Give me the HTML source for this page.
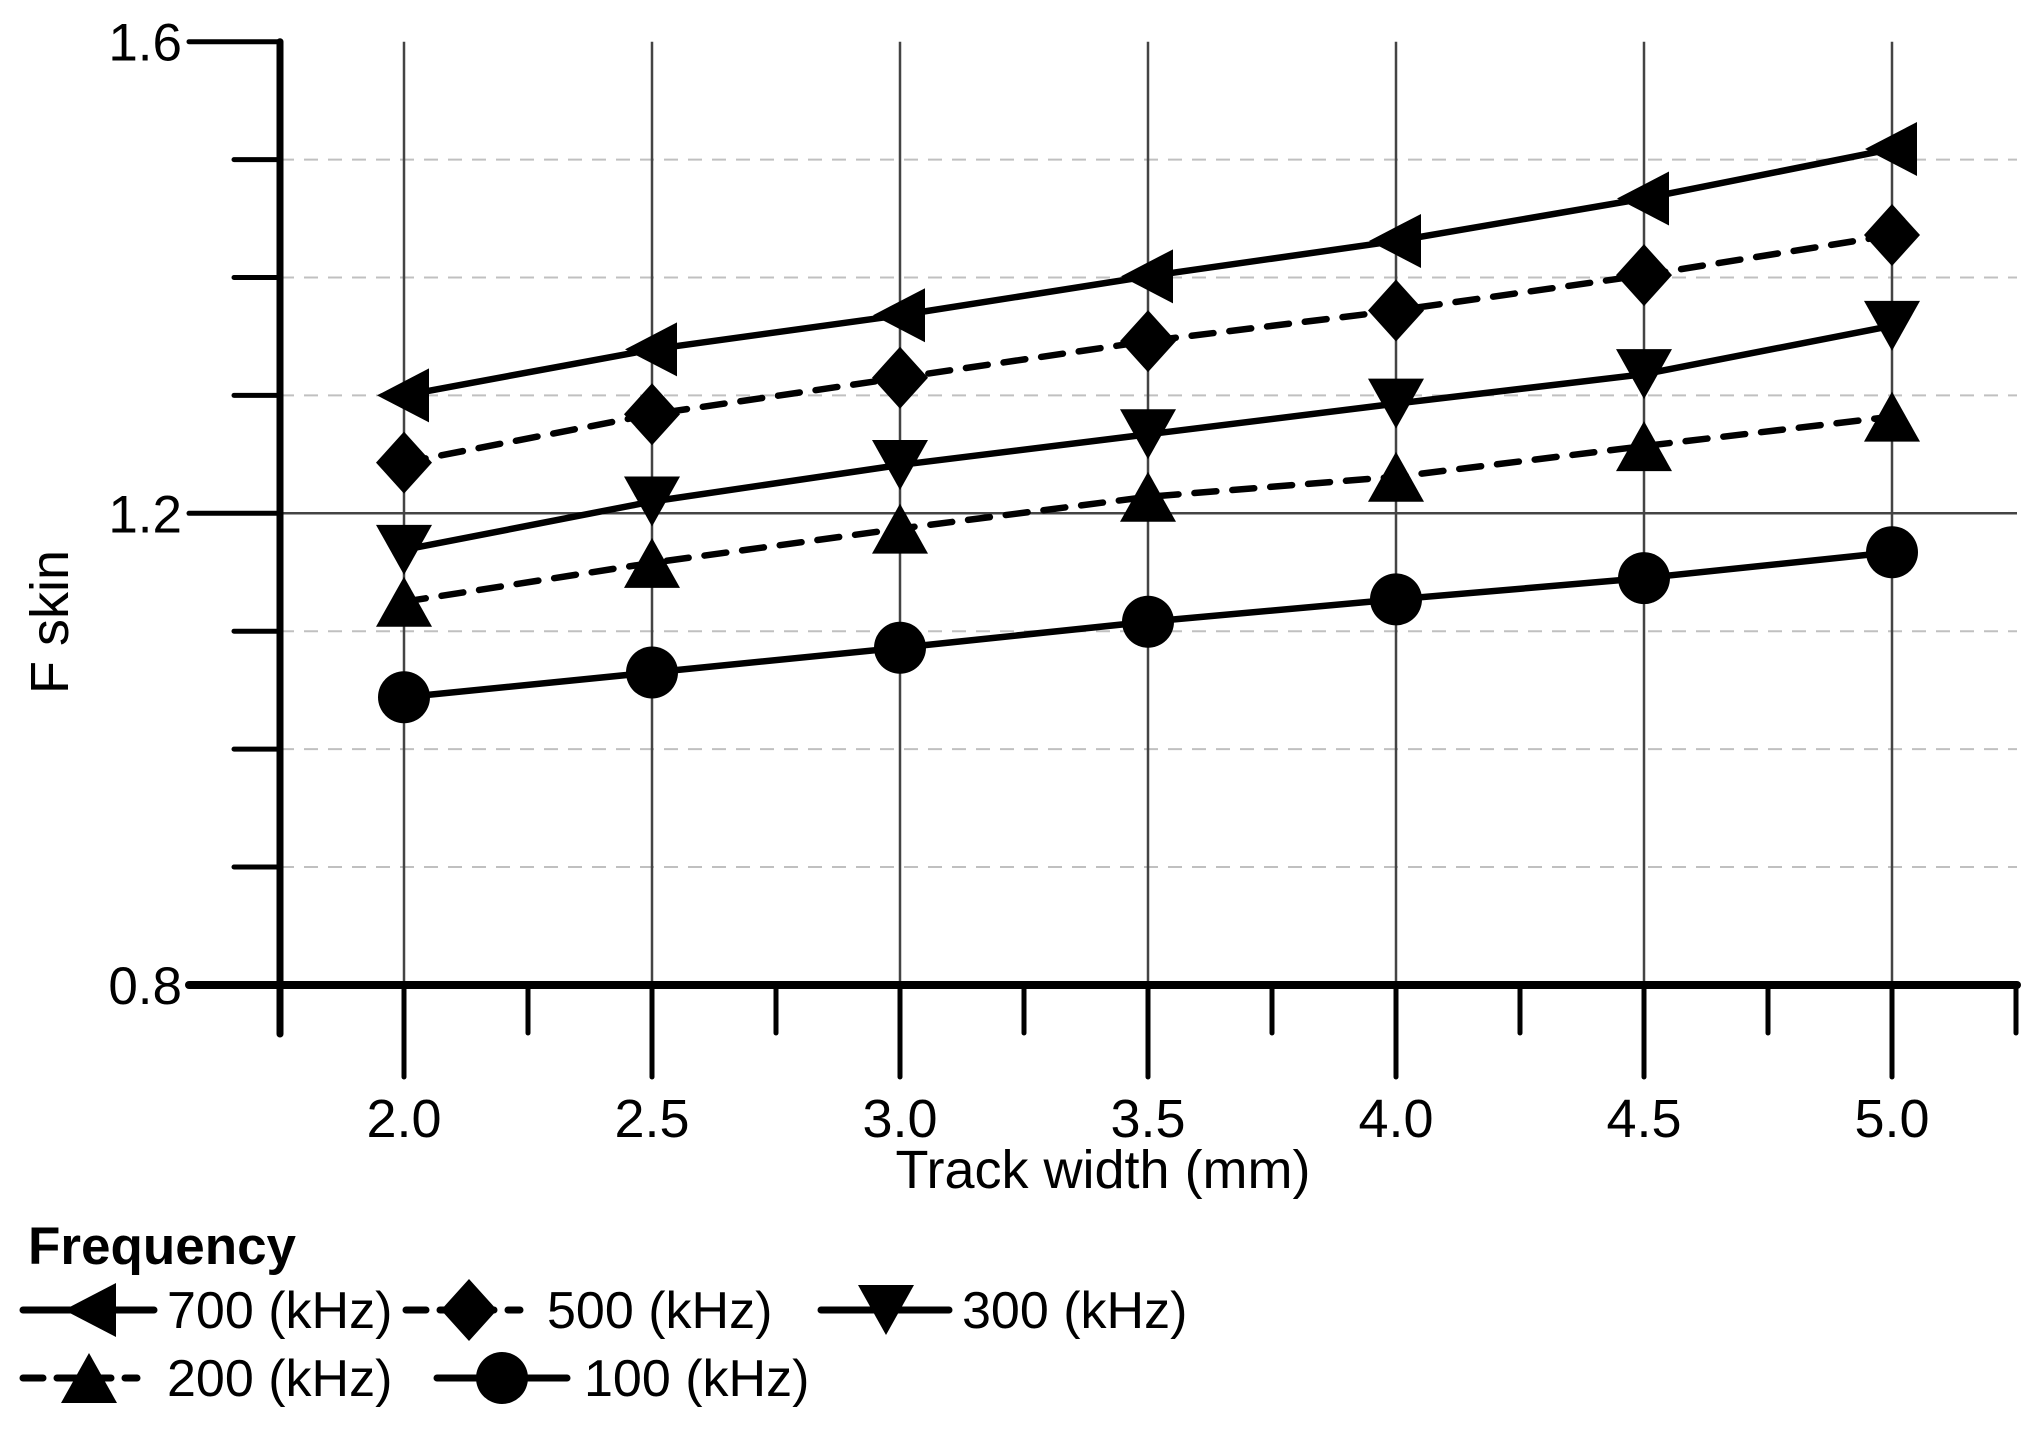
<!DOCTYPE html>
<html><head><meta charset="utf-8"><style>
html,body{margin:0;padding:0;background:#fff}
svg{display:block}
text{font-family:"Liberation Sans",Arial,sans-serif;fill:#000}
</style></head><body>
<svg id="s" width="2043" height="1446" viewBox="0 0 2043 1446" xmlns="http://www.w3.org/2000/svg">
<g id="grid"></g>
<g id="axes"></g>
<g id="series"></g>
<text x="1103" y="1188" font-size="54" text-anchor="middle">Track width (mm)</text>
<text transform="translate(68,622) rotate(-90)" font-size="54" text-anchor="middle">F skin</text>
<text x="28" y="1264" font-size="53" font-weight="bold">Frequency</text>
<g id="legend" font-size="52"></g>
</svg>
<script>
const NS="http://www.w3.org/2000/svg";
const X=v=>404+(v-2)*496, Y=v=>41.7+(1.6-v)*1179;
function el(p,t,a,txt){const e=document.createElementNS(NS,t);for(const k in a)e.setAttribute(k,a[k]);if(txt!==undefined)e.textContent=txt;document.getElementById(p).appendChild(e);return e;}
[1.5,1.4,1.3,1.1,1.0,0.9].forEach(v=>el('grid','line',{x1:280,x2:2017,y1:Y(v),y2:Y(v),stroke:'#c0c0c0','stroke-width':2,'stroke-dasharray':'14 10'}));
el('grid','line',{x1:280,x2:2017,y1:Y(1.2),y2:Y(1.2),stroke:'#444','stroke-width':2.5});
for(let v=2;v<=5.01;v+=0.5)el('grid','line',{x1:X(v),x2:X(v),y1:41.7,y2:985,stroke:'#444','stroke-width':2.5});
el('axes','line',{x1:280,x2:280,y1:41.7,y2:1034,stroke:'#000','stroke-width':7,'stroke-linecap':'round'});
el('axes','line',{x1:189,x2:2017,y1:985,y2:985,stroke:'#000','stroke-width':8,'stroke-linecap':'round'});
for(let v=0.8;v<=1.61;v+=0.1){const maj=Math.abs(v-0.8)<0.01||Math.abs(v-1.2)<0.01||Math.abs(v-1.6)<0.01;
 el('axes','line',{x1:maj?189:234,x2:280,y1:Y(v),y2:Y(v),stroke:'#000','stroke-width':5,'stroke-linecap':'round'});
 if(maj)el('axes','text',{x:182,y:Y(v)+19,'font-size':53,'text-anchor':'end'},v.toFixed(1));}
for(let v=1.75;v<=5.26;v+=0.25){const maj=Math.abs((v*2)-Math.round(v*2))<0.01;
 el('axes','line',{x1:X(v),x2:X(v),y1:985,y2:maj?1077:1033,stroke:'#000','stroke-width':5,'stroke-linecap':'round'});
 if(maj)el('axes','text',{x:X(v),y:1137,'font-size':54,'text-anchor':'middle'},v.toFixed(1));}
function marker(g,type,x,y){
 if(type=='L')el(g,'polygon',{points:`${x-27},${y} ${x+25},${y-27} ${x+25},${y+27}`});
 if(type=='D')el(g,'polygon',{points:`${x},${y-31} ${x+28},${y} ${x},${y+31} ${x-28},${y}`});
 if(type=='V')el(g,'polygon',{points:`${x-28},${y-25} ${x+28},${y-25} ${x},${y+25}`});
 if(type=='A')el(g,'polygon',{points:`${x-28},${y+25} ${x+28},${y+25} ${x},${y-25}`});
 if(type=='O')el(g,'circle',{cx:x,cy:y,r:26});
}
const data=[
 ['L',false,[1.30,1.339,1.368,1.401,1.431,1.467,1.509]],
 ['D',true,[1.243,1.284,1.315,1.346,1.372,1.402,1.436]],
 ['V',false,[1.169,1.210,1.241,1.267,1.293,1.318,1.359]],
 ['A',true,[1.125,1.158,1.187,1.214,1.231,1.257,1.282]],
 ['O',false,[1.044,1.065,1.086,1.108,1.127,1.145,1.167]]];
data.forEach(([t,d,ys])=>{
 const pts=ys.map((v,i)=>X(2+i*0.5)+','+Y(v)).join(' ');
 const a={points:pts,fill:'none',stroke:'#000','stroke-width':6.5,'stroke-linecap':'round','stroke-linejoin':'round'};
 if(d)a['stroke-dasharray']='22 16';
 el('series','polyline',a);
 ys.forEach((v,i)=>marker('series',t,X(2+i*0.5),Y(v)));
});
const leg=[['L',false,23,154,91,167,1310,'700 (kHz)'],['D',true,406,520,469,547,1310,'500 (kHz)'],['V',false,821,949,886,962,1310,'300 (kHz)'],
 ['A',true,23,137,89,167,1378,'200 (kHz)'],['O',false,437,567,502,584,1378,'100 (kHz)']];
leg.forEach(([t,d,x1,x2,mx,tx,y,lab])=>{
 const a={x1:x1,x2:x2,y1:y,y2:y,stroke:'#000','stroke-width':7,'stroke-linecap':'round'};
 if(d)a['stroke-dasharray']='20 14';
 el('legend','line',a);marker('legend',t,mx,y);
 el('legend','text',{x:tx,y:y+18},lab);
});
</script>
</body></html>
